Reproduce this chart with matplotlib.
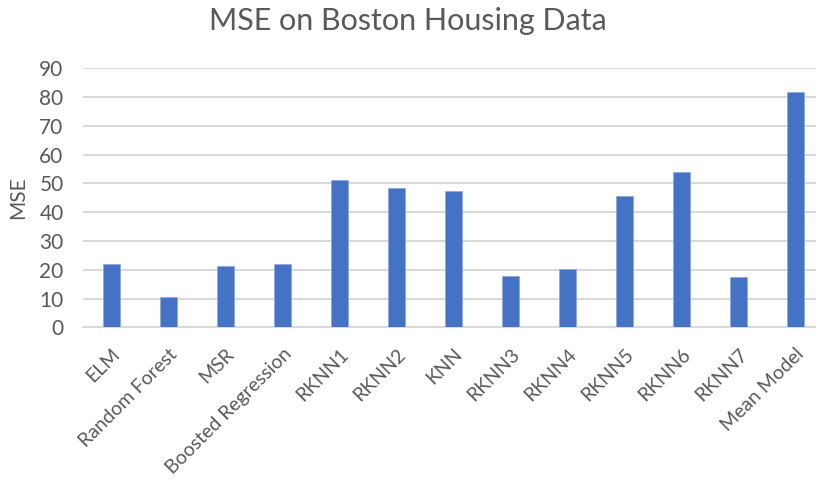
import numpy as np
import matplotlib.pyplot as plt

models = ['ELM', 'Random Forest', 'MSR', 'Boosted Regression', 'RKNN1', 'RKNN2',
          'KNN', 'RKNN3', 'RKNN4', 'RKNN5', 'RKNN6', 'RKNN7', 'Mean Model']
mse = [22.0, 10.7, 21.2, 22.0, 51.3, 48.4, 47.3, 18.0, 20.4, 45.5, 54.1, 17.5, 81.7]
yticks = [0, 10, 20, 30, 40, 50, 60, 70, 80, 90]

plt.rcParams['font.family'] = ['Lato', 'DejaVu Sans']
text_col = '#595959'
grid_col = '#d9d9d9'

fig = plt.figure(figsize=(8.16, 4.8), dpi=100)
ax = fig.add_axes([83 / 816, 1 - 327.3 / 480, 1 - 83 / 816, (327.3 - 68.3) / 480])

x = np.arange(len(models))
ax.bar(x, mse, width=0.31, color='#4472c4', edgecolor='#8faadc', linewidth=0.6, zorder=3)

ax.set_xlim(-0.5, 12.36)
ax.set_ylim(0, 90)
ax.set_yticks(yticks)
ax.yaxis.grid(True, color=grid_col, linewidth=1.5, zorder=0)
for s in ['top', 'right', 'left']:
    ax.spines[s].set_visible(False)
ax.spines['bottom'].set_color(grid_col)
ax.spines['bottom'].set_linewidth(1.5)

ax.tick_params(axis='both', length=0, colors=text_col)
ax.tick_params(axis='y', pad=14, labelsize=15)
ax.set_xticks(x)
ax.set_xticklabels(models, rotation=45, ha='right', rotation_mode='anchor')
ax.tick_params(axis='x', pad=13, labelsize=14)

ax.set_ylabel('MSE', color=text_col, fontsize=15)
ax.yaxis.set_label_coords(-0.075, 0.5)
fig.suptitle('MSE on Boston Housing Data', color=text_col, fontsize=22, y=0.985)

fig.savefig('out.png', dpi=100)
